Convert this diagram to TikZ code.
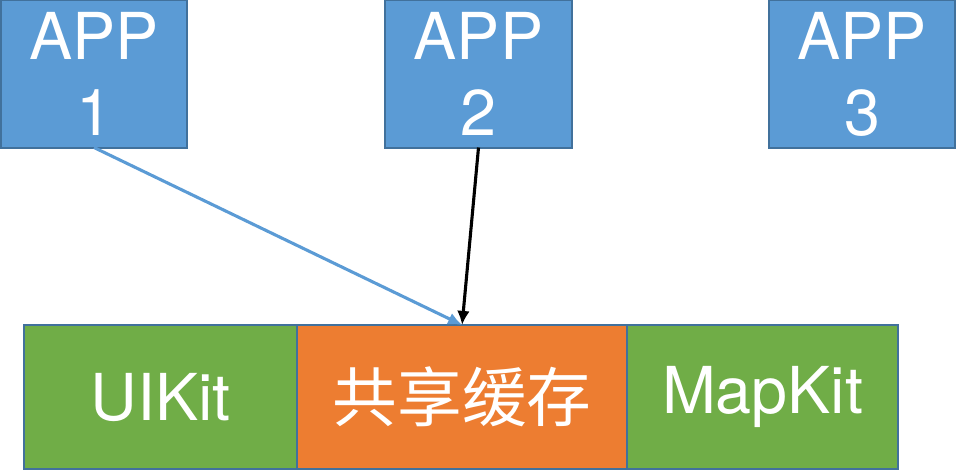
\documentclass[tikz,border=0pt]{standalone}
\usepackage{fontspec}
\setmainfont{TeX Gyre Heros}
\newfontfamily\cjk{Noto Sans CJK SC}
\usepackage{tikz}
\usetikzlibrary{positioning}
\usetikzlibrary{arrows.meta}

\definecolor{appblue}{HTML}{5B9BD5}
\definecolor{edgeblue}{HTML}{41719C}
\definecolor{kitgreen}{HTML}{70AD47}
\definecolor{cacheorange}{HTML}{ED7D31}

\begin{document}
\begin{tikzpicture}
    [
    x=0.025cm, y=-0.025cm,
    appbox/.style={rectangle,draw=edgeblue,fill=appblue,line width=1.4pt,text=white,
      align=center,inner sep=0pt,outer sep=0pt,minimum width=4.65cm,minimum height=3.675cm,
      font=\fontsize{46}{54}\selectfont},
    kitbox/.style={rectangle,draw=edgeblue,fill=kitgreen,line width=1.4pt,text=white,
      inner sep=0pt,outer sep=0pt,minimum height=3.6cm,font=\fontsize{46}{54}\selectfont},
    link/.style={-{Latex[length=10pt,width=9pt]},line width=2.2pt},
    node distance=0pt
    ]
    \useasboundingbox (0,0) rectangle (958,472);
    \node (app1) at (94,74) [appbox] {APP\\1};
    \node (app2) at (478.5,74) [appbox] {APP\\2};
    \node (app3) at (862,74) [appbox] {APP\\3};
    \node (uikit) at (160.5,397) [kitbox,minimum width=6.825cm] {UIKit};
    \node (cache) [kitbox,fill=cacheorange,minimum width=8.25cm,right=of uikit] {\cjk 共享缓存};
    \node (mapkit) [kitbox,minimum width=6.775cm,right=of cache] {MapKit};
    \draw [link, appblue] (app1.south) to (cache.north);
    \draw [link, black] (app2.south) to (cache.north);
  \end{tikzpicture}
\end{document}
